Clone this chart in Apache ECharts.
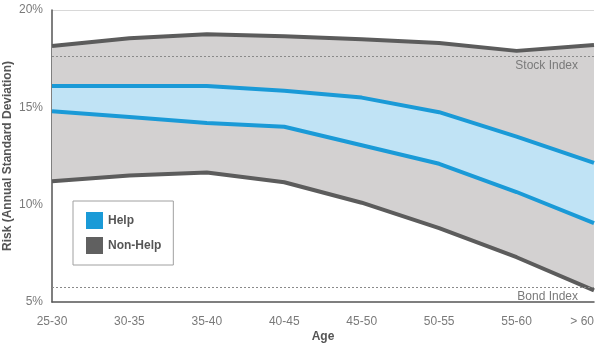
<!DOCTYPE html>
<html>
<head>
<meta charset="utf-8">
<script src="https://cdn.jsdelivr.net/npm/echarts@6/dist/echarts.min.js"></script>
<style>
  html, body { margin: 0; padding: 0; background: #fff; }
  #chart { width: 598px; height: 347px; }
</style>
</head>
<body>
<div id="chart"></div>
<script>
// Data
const categories = ['25-30', '30-35', '35-40', '40-45', '45-50', '50-55', '55-60', '> 60'];
const nonHelpHigh = [18.15, 18.55, 18.75, 18.65, 18.5, 18.3, 17.9, 18.2];
const nonHelpLow = [11.2, 11.5, 11.65, 11.15, 10.1, 8.8, 7.3, 5.6];
const helpHigh = [16.1, 16.1, 16.1, 15.85, 15.5, 14.75, 13.5, 12.15];
const helpLow = [14.8, 14.5, 14.2, 14.0, 13.05, 12.1, 10.65, 9.05];
const stockIndex = 17.6;
const bondIndex = 5.75;
const yTicks = [5, 10, 15, 20];

// Colours
const blue = '#1a9ad7';
const lightBlue = '#c0e3f5';
const grey = '#d3d1d1';
const darkGrey = '#5c5c5c';
const textGrey = '#7a7a7a';
const font = 'Liberation Sans, Arial, sans-serif';

// band heights for the stacked fills
const nonHelpBand = nonHelpHigh.map((v, i) => +(v - nonHelpLow[i]).toFixed(3));
const helpBand = helpHigh.map((v, i) => +(v - helpLow[i]).toFixed(3));

const chart = echarts.init(document.getElementById('chart'));

function hiddenLine(name, data, stack, fill) {
    const s = {
        name: name,
        type: 'line',
        stack: stack,
        data: data,
        symbol: 'none',
        silent: true,
        lineStyle: { opacity: 0 }
    };
    if (fill) s.areaStyle = { color: fill, opacity: 1 };
    return s;
}

function visibleLine(name, data, color) {
    return {
        name: name,
        type: 'line',
        data: data,
        symbol: 'none',
        silent: true,
        lineStyle: { color: color, width: 4 },
        itemStyle: { color: color }
    };
}

const refLines = visibleLine('nh-low', nonHelpLow, darkGrey);
refLines.markLine = {
    silent: true,
    symbol: 'none',
    lineStyle: { type: [2, 2], color: '#8a8a8a', width: 1 },
    label: {
        position: 'insideEndBottom',
        formatter: '{b}',
        color: textGrey,
        fontFamily: font,
        fontSize: 12,
        distance: [16, 3]
    },
    data: [
        { name: 'Stock Index', yAxis: stockIndex },
        { name: 'Bond Index', yAxis: bondIndex }
    ]
};

const option = {
    animation: false,
    grid: { left: 52, right: 4, top: 10, bottom: 45, containLabel: false, outerBoundsMode: 'none' },
    legend: {
        orient: 'vertical',
        left: 73,
        top: 201,
        padding: [11, 12, 11, 13],
        itemGap: 8,
        itemWidth: 17,
        itemHeight: 17,
        borderColor: '#a0a0a0',
        borderWidth: 1,
        backgroundColor: '#fff',
        selectedMode: false,
        textStyle: { color: '#555', fontWeight: 'bold', fontSize: 12, fontFamily: font },
        data: [
            { name: 'Help', icon: 'rect', itemStyle: { color: blue } },
            { name: 'Non-Help', icon: 'rect', itemStyle: { color: '#606060' } }
        ]
    },
    xAxis: {
        type: 'category',
        data: categories,
        boundaryGap: false,
        name: 'Age',
        nameLocation: 'middle',
        nameGap: 29,
        nameMoveOverlap: false,
        nameTextStyle: { color: '#555', fontWeight: 'bold', fontSize: 12, fontFamily: font },
        axisLine: { lineStyle: { color: '#555', width: 1.5 } },
        axisTick: { show: false },
        axisLabel: {
            color: textGrey, fontSize: 12, fontFamily: font, margin: 14,
            alignMaxLabel: 'right'
        }
    },
    yAxis: {
        type: 'value',
        min: yTicks[0],
        max: yTicks[yTicks.length - 1],
        interval: 5,
        name: 'Risk (Annual Standard Deviation)',
        nameLocation: 'middle',
        nameGap: 38,
        nameMoveOverlap: false,
        nameTextStyle: { color: '#555', fontWeight: 'bold', fontSize: 12, fontFamily: font },
        axisLine: { show: true, lineStyle: { color: '#555', width: 1.5 } },
        axisTick: { show: false },
        axisLabel: { color: textGrey, fontSize: 12, fontFamily: font, margin: 9, formatter: '{value}%' },
        splitLine: {
            show: true,
            lineStyle: { color: ['transparent', 'transparent', 'transparent', '#d8d8d8'], width: 1 }
        }
    },
    series: [
        hiddenLine('nh-base', nonHelpLow, 'nh'),
        hiddenLine('nh-band', nonHelpBand, 'nh', grey),
        hiddenLine('h-base', helpLow, 'h'),
        hiddenLine('h-band', helpBand, 'h', lightBlue),
        refLines,
        visibleLine('Non-Help', nonHelpHigh, darkGrey),
        visibleLine('h-low', helpLow, blue),
        visibleLine('Help', helpHigh, blue)
    ]
};

chart.setOption(option);
</script>
</body>
</html>
